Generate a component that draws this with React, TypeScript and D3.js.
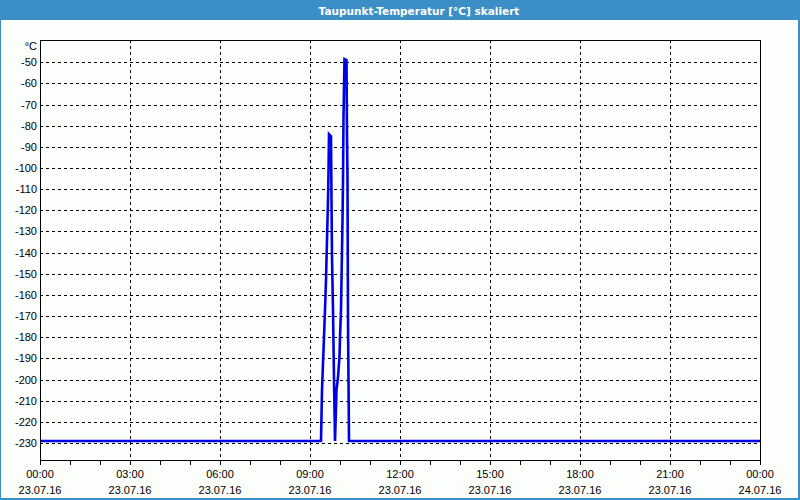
import React from "react";
import * as d3 from "d3";

// Time in minutes since 23.07.16 00:00
const timeMinutes = [
  0, 562, 563, 564, 566, 568, 570, 572, 574, 576, 577, 578, 582, 583, 584, 586, 588, 590,
  592, 593, 596, 599, 600, 602, 603, 605, 606, 607, 609, 613, 614, 615, 616, 618, 1440,
];
const dewPoint = [
  -229, -229, -217, -205, -192, -180, -167, -153, -134, -115, -102, -84, -85, -115, -142, -167, -200, -229,
  -213, -205, -199, -189, -180, -167, -153, -125, -106, -76, -48.5, -49, -85, -105, -172, -229, -229,
];

const yTicks = [-50, -60, -70, -80, -90, -100, -110, -120, -130, -140, -150, -160, -170, -180, -190, -200, -210, -220, -230];
const xTickHours = [0, 3, 6, 9, 12, 15, 18, 21, 24];
const xTimeLabels = ["00:00", "03:00", "06:00", "09:00", "12:00", "15:00", "18:00", "21:00", "00:00"];
const xDateLabels = ["23.07.16", "23.07.16", "23.07.16", "23.07.16", "23.07.16", "23.07.16", "23.07.16", "23.07.16", "24.07.16"];
const minorHours = d3.range(0, 25);

const title = "Taupunkt-Temperatur [°C] skaliert";
const unit = "°C";

export default function App() {
  const W = 800, H = 500;
  const L = 40, R = 760, T = 40, B = 460;
  const x = d3.scaleLinear().domain([0, 1440]).range([L, R]);
  const y = d3.scaleLinear().domain([-238, -39.5]).range([B, T]);
  const line = d3
    .line<number>()
    .x((_, i) => x(timeMinutes[i]))
    .y((d) => y(d));
  const path = line(dewPoint) || "";
  const font = "'Liberation Sans', Arial, sans-serif";
  const crisp = (v: number) => Math.round(v) + 0.5;

  return (
    <svg
      width={W}
      height={H}
      style={{ position: "fixed", left: 0, top: 0, display: "block" }}
      fontFamily={font}
    >
      <rect x={0} y={0} width={W} height={H} fill="#fcfefc" />
      {/* title bar */}
      <rect x={0} y={0} width={W} height={20} fill="#3c8fc6" />
      <text
        x={W / 2 + 19}
        y={14.5}
        textAnchor="middle"
        fill="#ffffff"
        fontSize={10.5}
        fontWeight="bold"
        fontFamily="'DejaVu Sans', Verdana, sans-serif"
      >
        {title}
      </text>
      {/* outer border */}
      <rect x={0} y={20} width={1} height={H - 20} fill="#3c8fc6" />
      <rect x={W - 2} y={20} width={2} height={H - 20} fill="#3c8fc6" />
      <rect x={0} y={H - 2} width={W} height={2} fill="#3c8fc6" />

      {/* horizontal grid */}
      {yTicks.map((t) => (
        <line
          key={"hg" + t}
          x1={L}
          x2={R}
          y1={crisp(y(t))}
          y2={crisp(y(t))}
          stroke="#000"
          strokeWidth={1}
          strokeDasharray="3,3"
          shapeRendering="crispEdges"
        />
      ))}
      {/* vertical grid */}
      {xTickHours.slice(1, -1).map((h) => (
        <line
          key={"vg" + h}
          x1={crisp(x(h * 60))}
          x2={crisp(x(h * 60))}
          y1={T}
          y2={B}
          stroke="#000"
          strokeWidth={1}
          strokeDasharray="3,3"
          shapeRendering="crispEdges"
        />
      ))}

      {/* data */}
      <path d={path} fill="none" stroke="#0000e6" strokeWidth={2.6} strokeLinejoin="miter" />

      {/* frame */}
      <rect
        x={L + 0.5}
        y={T + 0.5}
        width={R - L}
        height={B - T}
        fill="none"
        stroke="#000"
        strokeWidth={1}
        shapeRendering="crispEdges"
      />

      {/* minor ticks */}
      {minorHours.map((h) => (
        <line
          key={"mt" + h}
          x1={crisp(x(h * 60))}
          x2={crisp(x(h * 60))}
          y1={B}
          y2={B + 5}
          stroke="#000"
          strokeWidth={1}
          shapeRendering="crispEdges"
        />
      ))}

      {/* y labels */}
      <text x={37} y={50} textAnchor="end" fontSize={11} fill="#000">
        {unit}
      </text>
      {yTicks.map((t) => (
        <text key={"yl" + t} x={37} y={y(t) + 4} textAnchor="end" fontSize={11} fill="#000">
          {t}
        </text>
      ))}

      {/* x labels */}
      {xTickHours.map((h, i) => (
        <g key={"xl" + h}>
          <text x={x(h * 60)} y={478} textAnchor="middle" fontSize={11} fill="#000">
            {xTimeLabels[i]}
          </text>
          <text x={x(h * 60)} y={494} textAnchor="middle" fontSize={11} fill="#000">
            {xDateLabels[i]}
          </text>
        </g>
      ))}
    </svg>
  );
}
